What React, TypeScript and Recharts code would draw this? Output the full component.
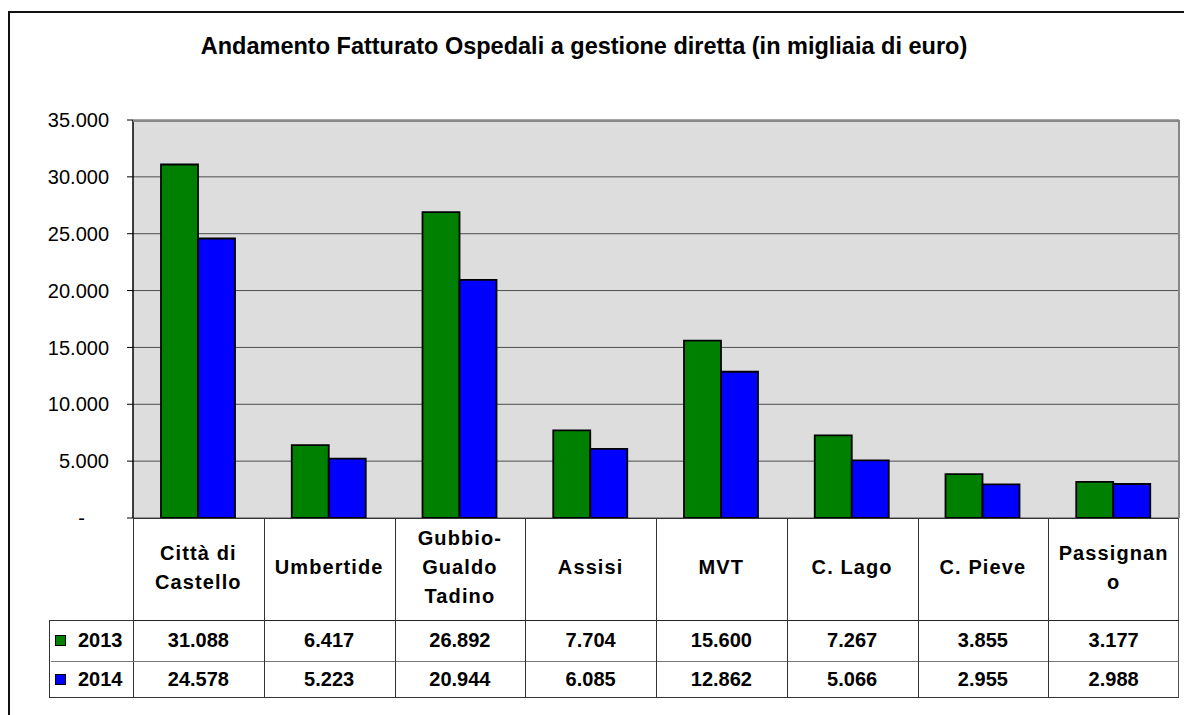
import { BarChart, Bar, XAxis, YAxis, CartesianGrid } from "recharts";

const CATEGORIE = ["Città di Castello", "Umbertide", "Gubbio-Gualdo Tadino", "Assisi", "MVT", "C. Lago", "C. Pieve", "Passignano"];
const RIGHE_ETICHETTA = [["Città di", "Castello"], ["Umbertide"], ["Gubbio-", "Gualdo", "Tadino"], ["Assisi"], ["MVT"], ["C. Lago"], ["C. Pieve"], ["Passignan", "o"]];
const V2013 = [31088, 6417, 26892, 7704, 15600, 7267, 3855, 3177];
const V2014 = [24578, 5223, 20944, 6085, 12862, 5066, 2955, 2988];
const Y_TICKS = [0, 5000, 10000, 15000, 20000, 25000, 30000, 35000];

const TITOLO = "Andamento Fatturato Ospedali a gestione diretta (in migliaia di euro)";
const FONT = "'Liberation Sans', Arial, sans-serif";

const DATA = CATEGORIE.map((c, i) => ({ name: c, a2013: V2013[i], a2014: V2014[i] }));

// plot area geometry (px, page coords)
const PL = 133, PT = 120, PR = 1179, PB = 518;
const COL = (PR - PL) / CATEGORIE.length;
const ROW1 = 620, ROW2 = 661, ROW3 = 698;

const fmt = (v: number) => String(v).replace(/\B(?=(\d{3})+(?!\d))/g, ".");

function YTick({ x, y, payload }: any) {
  const zero = payload.value === 0;
  return (
    <text x={zero ? x - 24 : x} y={y} dy="0.36em" textAnchor="end" fontSize={20} fill="#000" fontFamily={FONT}>
      {zero ? "-" : fmt(payload.value)}
    </text>
  );
}

const cellText: React.CSSProperties = {
  position: "absolute", display: "flex", alignItems: "center", justifyContent: "center",
  fontWeight: 700, fontSize: 20, color: "#000", textAlign: "center", lineHeight: "29px",
};

export default function App() {
  return (
    <div style={{ position: "absolute", left: 0, top: 0, width: 1184, height: 715, overflow: "hidden", background: "#fff", fontFamily: FONT }}>
      {/* cornice */}
      <div style={{ position: "absolute", left: 8, top: 11, width: 1200, height: 800, border: "2px solid #111", boxSizing: "border-box" }} />
      <div style={{ position: "absolute", left: 0, width: 1168, top: 33, textAlign: "center", fontWeight: 700, fontSize: 23.5 }}>
        {TITOLO}
      </div>

      <div style={{ position: "absolute", left: 0, top: 0 }}>
        <BarChart width={1184} height={715} data={DATA} margin={{ top: PT, right: 1184 - PR, bottom: 715 - PB, left: 8 }} barGap={0} barSize={37}>
          <CartesianGrid vertical={false} stroke="#4d4d4d" fill="#DDDDDD" fillOpacity={1} />
          <XAxis dataKey="name" hide />
          <YAxis
            width={PL - 8}
            domain={[0, 35000]}
            ticks={Y_TICKS}
            tickSize={6}
            tickMargin={18}
            tick={<YTick />}
            axisLine={{ stroke: "#000", strokeWidth: 1.5 }}
            tickLine={{ stroke: "#000" }}
          />
          <Bar dataKey="a2013" name="2013" fill="#008000" stroke="#000" strokeWidth={1.8} isAnimationActive={false} />
          <Bar dataKey="a2014" name="2014" fill="#0000FF" stroke="#000" strokeWidth={1.8} isAnimationActive={false} />
        </BarChart>
      </div>

      {/* bordo area del grafico */}
      <div style={{ position: "absolute", left: PL, top: PT, width: PR - PL + 1, height: PB - PT, borderTop: "2px solid #888", borderRight: "2px solid #888", boxSizing: "border-box", pointerEvents: "none" }} />

      {/* tabella dati */}
      <div style={{ position: "absolute", left: PL, top: PB, width: PR - PL, height: ROW3 - PB, borderTop: "1.5px solid #333", borderLeft: "1.5px solid #333", borderRight: "1.5px solid #555", borderBottom: "1.5px solid #333", boxSizing: "border-box" }} />
      <div style={{ position: "absolute", left: 49, top: ROW1, width: PR - 49, height: 0, borderTop: "1.5px solid #222" }} />
      <div style={{ position: "absolute", left: 51, top: ROW2, width: PR - 52, height: 0, borderTop: "1px solid #777" }} />
      <div style={{ position: "absolute", left: 49, top: ROW1, width: PL - 49, height: ROW3 - ROW1, border: "1.5px solid #333", borderRight: "none", boxSizing: "border-box" }} />
      {CATEGORIE.slice(1).map((_, i) => (
        <div key={"v" + i} style={{ position: "absolute", left: PL + COL * (i + 1), top: PB, width: 0, height: ROW3 - PB, borderLeft: "1.5px solid #333" }} />
      ))}
      {RIGHE_ETICHETTA.map((righe, i) => (
        <div key={"c" + i} style={{ ...cellText, left: PL + COL * i, top: PB, width: COL, height: ROW1 - PB - 3, letterSpacing: 1.1, flexDirection: "column" }}>
          {righe.map((r, j) => <div key={j}>{r}</div>)}
        </div>
      ))}
      {V2013.map((v, i) => (
        <div key={"a" + i} style={{ ...cellText, left: PL + COL * i, top: ROW1, width: COL, height: ROW2 - ROW1 }}>{fmt(v)}</div>
      ))}
      {V2014.map((v, i) => (
        <div key={"b" + i} style={{ ...cellText, left: PL + COL * i, top: ROW2, width: COL, height: ROW3 - ROW2 }}>{fmt(v)}</div>
      ))}
      {[["2013", "#008000", ROW1, ROW2], ["2014", "#0000FF", ROW2, ROW3]].map(([lab, col, t, b]: any) => (
        <div key={lab} style={{ ...cellText, justifyContent: "flex-start", left: 55, top: t, height: b - t }}>
          <span style={{ display: "inline-block", width: 9, height: 9, background: col, border: "1px solid #000", marginRight: 12 }} />
          {lab}
        </div>
      ))}
    </div>
  );
}
